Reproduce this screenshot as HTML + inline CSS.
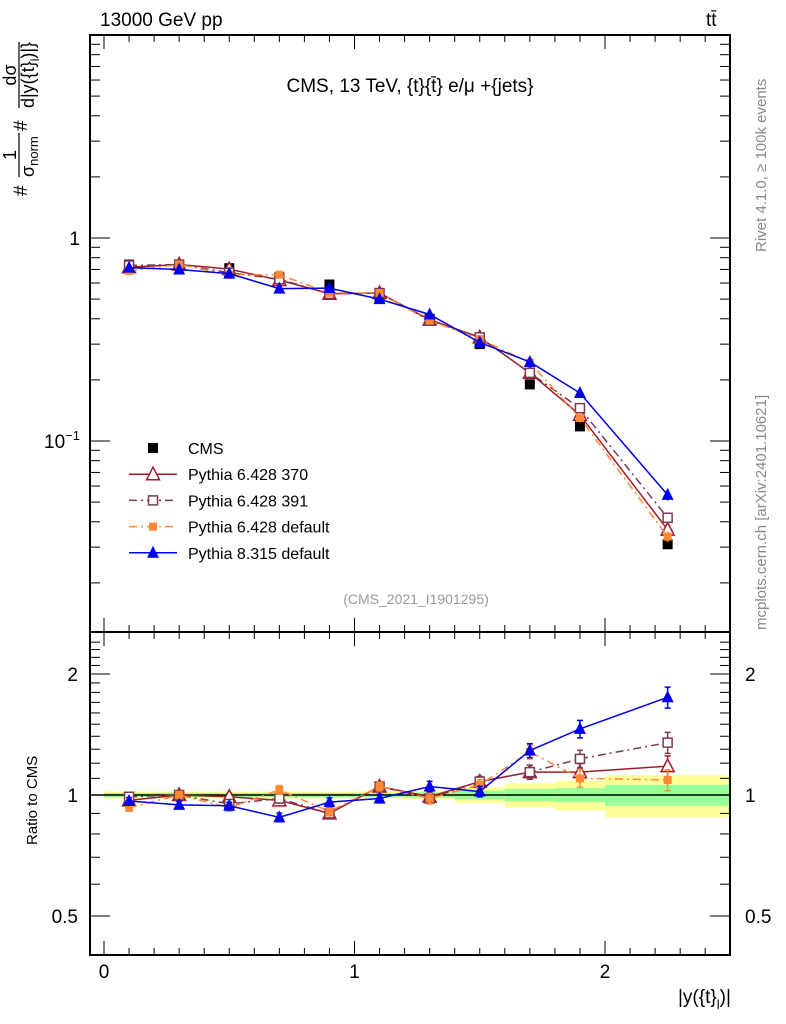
<!DOCTYPE html>
<html><head><meta charset="utf-8"><style>
html,body{margin:0;padding:0;background:#fff}
svg{display:block;font-family:"Liberation Sans",sans-serif}
</style></head><body>
<svg id="chart" width="786" height="1024" viewBox="0 0 786 1024" xmlns="http://www.w3.org/2000/svg">
<rect width="786" height="1024" fill="#fff"/>
<text x="100" y="26" font-size="19">13000 GeV pp</text>
<text x="706" y="26" font-size="19">tt̄</text>
<text x="410" y="92" font-size="19" text-anchor="middle">CMS, 13 TeV, {t}{t̄} e/μ +{jets}</text>
<text transform="translate(766,252) rotate(-90)" font-size="15" fill="#888">Rivet 4.1.0, ≥ 100k events</text>
<text transform="translate(766,630) rotate(-90)" font-size="15" fill="#888">mcplots.cern.ch [arXiv:2401.10621]</text>
<text x="416" y="604" font-size="14" fill="#999" text-anchor="middle">(CMS_2021_I1901295)</text>
<g transform="rotate(-90)" font-size="19">
<text x="-196" y="27">#</text>
<text x="-155" y="16" font-size="18" text-anchor="middle">1</text>
<line x1="-177" x2="-133" y1="19" y2="19" stroke="#000" stroke-width="1.2"/>
<text x="-177" y="34" font-size="18">σ<tspan font-size="13" dy="4">norm</tspan></text>
<text x="-131" y="27">#</text>
<text x="-75" y="16" font-size="18" text-anchor="middle">dσ</text>
<line x1="-108" x2="-42" y1="19" y2="19" stroke="#000" stroke-width="1.2"/>
<text x="-108" y="34" font-size="18">d|y({t}<tspan font-size="12" dy="5">l</tspan><tspan dy="-5">)|}</tspan></text>
</g>
<text transform="translate(37,845) rotate(-90)" font-size="15">Ratio to CMS</text>
<text x="678" y="1003" font-size="19">|y({t}<tspan font-size="13" dy="6">l</tspan><tspan dy="-6">)|</tspan></text>
<g id="plot"></g>
</svg>
<script>
const binLo = [0,0.2,0.4,0.6,0.8,1.0,1.2,1.4,1.6,1.8,2.0];
const binHi = [0.2,0.4,0.6,0.8,1.0,1.2,1.4,1.6,1.8,2.0,2.5];
const xCenters = [0.1,0.3,0.5,0.7,0.9,1.1,1.3,1.5,1.7,1.9,2.25];
const cmsValues = [0.74,0.74,0.71,0.64,0.59,0.51,0.40,0.30,0.19,0.118,0.031];
const ratio370 = [0.97,1.0,0.99,0.97,0.90,1.05,0.99,1.08,1.14,1.14,1.18];
const ratio391 = [0.99,1.0,0.95,0.98,0.90,1.05,0.98,1.08,1.14,1.23,1.35];
const ratio6def = [0.93,1.0,0.93,1.03,0.91,1.05,0.98,1.06,1.28,1.10,1.09];
const ratio8def = [0.966,0.945,0.94,0.88,0.96,0.98,1.05,1.02,1.29,1.46,1.75];
const mcRelErr = [0.02,0.02,0.02,0.025,0.025,0.025,0.03,0.03,0.04,0.05,0.06];
const bandGreen = [0.012,0.012,0.012,0.012,0.012,0.012,0.015,0.025,0.035,0.04,0.06];
const bandYellow = [0.02,0.02,0.02,0.02,0.02,0.02,0.025,0.045,0.07,0.085,0.12];
const ratioTickValues = [0.5,1,2];
const ratioTickLabels = ['0.5','1','2'];
const xTickValues = [0,1,2];
const xTickLabels = ['0','1','2'];

const NS='http://www.w3.org/2000/svg';
const g=document.getElementById('plot');
function mk(tag,attrs,parent){const e=document.createElementNS(NS,tag);for(const k in attrs)e.setAttribute(k,attrs[k]);(parent||g).appendChild(e);return e;}
const X0=104, XS=250.5;
const xPx=v=>X0+v*XS;
const yMain=v=>238-203*Math.log10(v);
const yRat=v=>795-402*Math.log10(v);
const L=90,R=730,T=35,M=632,B=955;

for(let i=0;i<binLo.length;i++){
  let r=mk('rect',{x:xPx(binLo[i]),y:yRat(1+bandYellow[i]),width:xPx(binHi[i])-xPx(binLo[i]),height:yRat(1-bandYellow[i])-yRat(1+bandYellow[i]),fill:'#ffff99'});
  
  
  let r2=mk('rect',{x:xPx(binLo[i]),y:yRat(1+bandGreen[i]),width:xPx(binHi[i])-xPx(binLo[i]),height:yRat(1-bandGreen[i])-yRat(1+bandGreen[i]),fill:'#99ff99'});
  
  
}
let one=mk('line',{x1:L,x2:R,y1:yRat(1),y2:yRat(1),stroke:'#000','stroke-width':1.5});



let f1=mk('rect',{x:L,y:T,width:R-L,height:M-T,fill:'none',stroke:'#000','stroke-width':2});


let f2=mk('rect',{x:L,y:M,width:R-L,height:B-M,fill:'none',stroke:'#000','stroke-width':2});



for(let k=0;k<=25;k++){const v=k/10;const len=(k%10==0)?14:7;const px=xPx(v);
  for(const [yb,dir] of [[M,-1],[T,1],[B,-1],[M,1]]){mk('line',{x1:px,x2:px,y1:yb,y2:yb+dir*len,stroke:'#000','stroke-width':1});}
}
xTickValues.forEach((v,i)=>{let t=mk('text',{x:xPx(v),y:978,'font-size':19,'text-anchor':'middle'});t.textContent=xTickLabels[i];
  
  });
for(let d=-2;d<=1;d++){for(let m=1;m<=9;m++){const v=m*Math.pow(10,d);const py=yMain(v);if(py<T||py>M)continue;const len=m==1?20:10;
  mk('line',{x1:L,x2:L+len,y1:py,y2:py,stroke:'#000'});mk('line',{x1:R,x2:R-len,y1:py,y2:py,stroke:'#000'});}}
let t1=mk('text',{x:80,y:245,'font-size':19,'text-anchor':'end'});t1.textContent='1';


let t2=mk('text',{x:80,y:448,'font-size':19,'text-anchor':'end'});t2.innerHTML='10<tspan font-size="13" dy="-8">−1</tspan>';


for(let v=0.4;v<=2.5;v+=0.1){const py=yRat(v);if(py<M||py>B)continue;const major=Math.abs(v-0.5)<1e-6||Math.abs(v-1)<1e-6||Math.abs(v-2)<1e-6;const len=major?20:10;
  mk('line',{x1:L,x2:L+len,y1:py,y2:py,stroke:'#000'});mk('line',{x1:R,x2:R-len,y1:py,y2:py,stroke:'#000'});}
ratioTickValues.forEach((v,i)=>{
  let a=mk('text',{x:78,y:yRat(v)+7,'font-size':19,'text-anchor':'end'});a.textContent=ratioTickLabels[i];
  
  
  let b=mk('text',{x:745,y:yRat(v)+7,'font-size':19});b.textContent=ratioTickLabels[i];
  
  
});

function marker(type,col,x,y,parent){
  const s=5;
  if(type==='sq') return mk('rect',{x:x-s,y:y-s,width:2*s,height:2*s,fill:col},parent);
  if(type==='osq') return mk('rect',{x:x-s+0.5,y:y-s+0.5,width:2*s-1,height:2*s-1,fill:'#fff',stroke:col,'stroke-width':1.5},parent);
  if(type==='tri') return mk('polygon',{points:`${x},${y-7} ${x-6},${y+5} ${x+6},${y+5}`,fill:col},parent);
  if(type==='otri') return mk('polygon',{points:`${x},${y-7} ${x-6.5},${y+5.5} ${x+6.5},${y+5.5}`,fill:'#fff',stroke:col,'stroke-width':1.5},parent);
  if(type==='ssq') return mk('rect',{x:x-4,y:y-4,width:8,height:8,fill:col},parent);
}
const series=[
  {name:'pythia-6-428-370',r:ratio370,col:'#a01b2a',m:'otri',dash:''},
  {name:'pythia-6-428-391',r:ratio391,col:'#7b3a4e',m:'osq',dash:'8,4,2,4'},
  {name:'pythia-6-428-default',r:ratio6def,col:'#ff8833',m:'ssq',dash:'8,4,2,4'},
  {name:'pythia-8-315-default',r:ratio8def,col:'#0000ee',m:'tri',dash:''}
];
const cg=mk('g',{});


xCenters.forEach((x,i)=>{const m=marker('sq','#000',xPx(x),yMain(cmsValues[i]),cg);
  
  });
series.forEach(s=>{
  const sg=mk('g',{});
  
  
  const mainPts=xCenters.map((x,i)=>[xPx(x),yMain(cmsValues[i]*s.r[i])]);
  const ratPts=xCenters.map((x,i)=>[xPx(x),yRat(s.r[i])]);
  const a={fill:'none',stroke:s.col,'stroke-width':1.5};if(s.dash)a['stroke-dasharray']=s.dash;
  mk('polyline',Object.assign({points:mainPts.map(p=>p.join(',')).join(' ')},a),sg);
  mk('polyline',Object.assign({points:ratPts.map(p=>p.join(',')).join(' ')},a),sg);
  xCenters.forEach((x,i)=>{
    const v=cmsValues[i]*s.r[i],e=mcRelErr[i];
    mk('line',{x1:xPx(x),x2:xPx(x),y1:yMain(v*(1+e)),y2:yMain(v*(1-e)),stroke:s.col,'stroke-width':1.5},sg);
    const ru=s.r[i]*(1+e),rd=s.r[i]*(1-e);
    mk('line',{x1:xPx(x),x2:xPx(x),y1:yRat(ru),y2:yRat(rd),stroke:s.col,'stroke-width':1.5},sg);
    mk('line',{x1:xPx(x)-3,x2:xPx(x)+3,y1:yRat(ru),y2:yRat(ru),stroke:s.col,'stroke-width':1.5},sg);
    mk('line',{x1:xPx(x)-3,x2:xPx(x)+3,y1:yRat(rd),y2:yRat(rd),stroke:s.col,'stroke-width':1.5},sg);
    const m1=marker(s.m,s.col,mainPts[i][0],mainPts[i][1],sg);
    
    
    const m2=marker(s.m,s.col,ratPts[i][0],ratPts[i][1],sg);
    
    
  });
});
const lg=mk('g',{});


const legItems=[['CMS','#000','sq',''],['Pythia 6.428 370','#a01b2a','otri',''],['Pythia 6.428 391','#7b3a4e','osq','8,4,2,4'],['Pythia 6.428 default','#ff8833','ssq','8,4,2,4'],['Pythia 8.315 default','#0000ee','tri','']];
legItems.forEach((it,i)=>{
  const y=448+i*26.2;
  const eg=mk('g',{},lg);
  
  
  if(i>0){const a={x1:129,x2:177,y1:y,y2:y,stroke:it[1],'stroke-width':1.5};if(it[3])a['stroke-dasharray']=it[3];mk('line',a,eg);}
  marker(it[2],it[1],153,y,eg);
  const t=mk('text',{x:188,y:y+6,'font-size':16},eg);t.textContent=it[0];
});
</script>
</body></html>
